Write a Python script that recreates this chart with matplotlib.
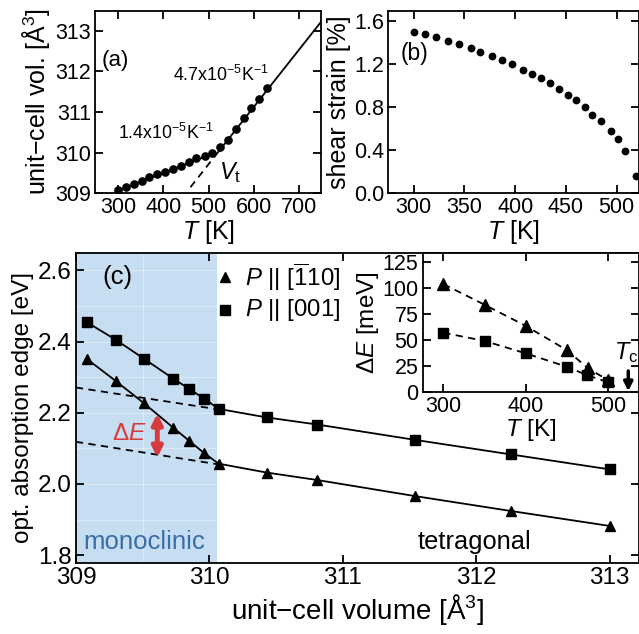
import numpy as np
import matplotlib
matplotlib.use("Agg")
import matplotlib.pyplot as plt

plt.rcParams['font.family'] = ['Liberation Sans', 'DejaVu Sans']
plt.rcParams['mathtext.fontset'] = 'custom'
plt.rcParams['mathtext.rm'] = 'Liberation Sans'
plt.rcParams['mathtext.it'] = 'Liberation Sans:italic'
plt.rcParams['mathtext.bf'] = 'Liberation Sans:bold'
plt.rcParams['font.size'] = 15
plt.rcParams['axes.linewidth'] = 1.3

# ---------------- data ----------------
# (a) unit-cell volume vs T
a_T = [300, 317, 335, 352, 369, 387, 404, 421, 439, 456,
       473, 491, 508, 525, 542, 560, 577, 594, 612, 629]
a_V = [309.07, 309.15, 309.23, 309.30, 309.39, 309.48, 309.52, 309.61, 309.68, 309.77,
       309.86, 309.92, 309.99, 310.13, 310.31, 310.58, 310.85, 311.09, 311.32, 311.59]
a_low_fit_T = [300, 515]
a_low_fit_V = [309.07, 310.00]
a_high_fit_T = [460, 515, 750]
a_high_fit_V = [309.15, 309.93, 313.25]

# (b) shear strain vs T
b_T = [300, 311, 322, 334, 345, 356, 365, 377, 387, 397, 408, 417,
       425, 434, 443, 452, 460, 469, 476, 485, 494, 501, 508, 519]
b_S = [1.498, 1.473, 1.449, 1.408, 1.381, 1.344, 1.310, 1.273, 1.232, 1.195, 1.143, 1.103,
       1.066, 1.019, 0.970, 0.911, 0.862, 0.797, 0.729, 0.667, 0.581, 0.503, 0.395, 0.164]

# (c) optical absorption edge vs volume
c_V = [309.08, 309.30, 309.51, 309.73, 309.85, 309.96, 310.07,
       310.43, 310.81, 311.54, 312.26, 313.00]
c_E_110 = [2.352, 2.289, 2.227, 2.158, 2.121, 2.087, 2.057,
           2.032, 2.011, 1.966, 1.924, 1.882]
c_E_001 = [2.455, 2.405, 2.352, 2.296, 2.267, 2.240, 2.211,
           2.187, 2.167, 2.124, 2.083, 2.041]
n_mono = 7  # first 7 points are monoclinic (the 7th is the transition)
V_transition = 310.06

# inset: Delta E vs T
i_T_110 = [300, 350, 400, 450, 475, 500]
i_dE_110 = [104, 84, 63.5, 40, 22.6, 11]
i_T_001 = [300, 350, 400, 450, 474, 500]
i_dE_001 = [57, 49, 37, 24, 16, 9]
T_c = 524

# ---------------- figure ----------------
fig = plt.figure(figsize=(6.39, 6.34), dpi=100)
W, H = 639.0, 634.0

def rect(l, r, t, b):
    return [l / W, 1 - b / H, (r - l) / W, (b - t) / H]

def style(ax, size):
    ax.tick_params(direction='in', length=6, width=1.3, top=True, right=True,
                   labelsize=size, pad=3)

# (a)
axa = fig.add_axes(rect(95.3, 321, 11, 193.3))
style(axa, 15.5)
axa.plot(a_low_fit_T, a_low_fit_V, '-', color='black', lw=1.3)
axa.plot(a_high_fit_T[:2], a_high_fit_V[:2], '--', color='black', lw=1.3, dashes=(4, 3))
axa.plot(a_high_fit_T[1:], a_high_fit_V[1:], '-', color='black', lw=1.3)
axa.plot(a_T, a_V, 'o', color='black', ms=5.2)
axa.set_xlim(250, 748)
axa.set_ylim(309, 313.49)
axa.set_xticks([300, 400, 500, 600, 700])
axa.set_yticks([309, 310, 311, 312, 313])
axa.set_xlabel('$T$ [K]', fontsize=18, labelpad=0)
axa.set_ylabel('unit\u2212cell vol. [Å$^3$]', fontsize=18, labelpad=2)
axa.text(294, 312.28, '(a)', fontsize=16, ha='center', va='center')
axa.text(422, 311.91, '4.7x10$^{-5}$K$^{-1}$', fontsize=12.8, ha='left', va='center')
axa.text(299, 310.49, '1.4x10$^{-5}$K$^{-1}$', fontsize=12.8, ha='left', va='center')
axa.text(524, 309.5, '$V_{\\mathrm{t}}$', fontsize=17, ha='left', va='center')

# (b)
axb = fig.add_axes(rect(388.3, 639, 11, 193.3))
style(axb, 15.5)
axb.plot(b_T, b_S, 'o', color='black', ms=4.6, clip_on=False)
axb.set_xlim(275, 522)
axb.set_ylim(0, 1.69)
axb.set_xticks([300, 350, 400, 450, 500])
axb.set_yticks([0.0, 0.4, 0.8, 1.2, 1.6])
axb.set_yticklabels(['0.0', '0.4', '0.8', '1.2', '1.6'])
axb.set_xlabel('$T$ [K]', fontsize=18, labelpad=0)
axb.set_ylabel('shear strain [%]', fontsize=18, labelpad=2)
axb.text(301, 1.30, '(b)', fontsize=16.5, ha='center', va='center')

# (c)
axc = fig.add_axes(rect(75.9, 639, 252.7, 563.3))
style(axc, 17.5)
axc.axvspan(309.0, V_transition, color='#c6ddf2', lw=0, zorder=0)
for yg in [1.9, 2.0, 2.1, 2.2, 2.3, 2.4, 2.5, 2.6]:
    axc.plot([309.0, V_transition], [yg, yg], color='white', lw=0.8, alpha=0.4, zorder=0.5)
axc.plot([309.5, 309.5], [1.777, 2.65], color='white', lw=0.8, alpha=0.4, zorder=0.5)

# dashed extrapolations of the tetragonal fits
xx = np.array([309.0, c_V[n_mono - 1]])
for E in (c_E_110, c_E_001):
    p = np.polyfit(c_V[n_mono - 1:], E[n_mono - 1:], 1)
    axc.plot(xx, np.polyval(p, xx), '--', color='black', lw=1.3, dashes=(4, 3), zorder=2)

axc.plot(c_V, c_E_110, '-', color='black', lw=1.3, zorder=3)
axc.plot(c_V, c_E_001, '-', color='black', lw=1.3, zorder=3)
axc.plot(c_V, c_E_110, '^', color='black', ms=7.5, zorder=4, ls='none')
axc.plot(c_V, c_E_001, 's', color='black', ms=6.5, zorder=4, ls='none')

axc.set_xlim(309.0, 313.22)
axc.set_ylim(1.777, 2.65)
axc.set_xticks([309, 310, 311, 312, 313])
axc.set_yticks([1.8, 2.0, 2.2, 2.4, 2.6])
axc.set_yticklabels(['1.8', '2.0', '2.2', '2.4', '2.6'])
axc.set_xlabel('unit\u2212cell volume [Å$^3$]', fontsize=20, labelpad=2)
axc.set_ylabel('opt. absorption edge [eV]', fontsize=17.5, labelpad=3)

axc.text(309.31, 2.582, '(c)', fontsize=18.5, ha='center', va='center')
axc.text(309.51, 1.838, 'monoclinic', fontsize=18.5, ha='center', va='center', color='#3a6ea8')
axc.text(311.99, 1.838, 'tetragonal', fontsize=18.3, ha='center', va='center', color='black')

# Delta E arrow
axc.annotate('', xy=(309.61, 2.074), xytext=(309.61, 2.198),
             arrowprops=dict(arrowstyle='<|-|>', color='#d63a3c', lw=3.5,
                             mutation_scale=15, shrinkA=0, shrinkB=0))
axc.text(309.40, 2.140, '$\\Delta E$', fontsize=17.5, ha='center', va='center', color='#d63a3c')

# legend (manual)
axc.plot([310.12], [2.582], '^', color='black', ms=7.5)
axc.plot([310.12], [2.489], 's', color='black', ms=6.5)
axc.text(310.27, 2.582, '$P$ || [$\\overline{1}$10]', fontsize=17.3, ha='left', va='center')
axc.text(310.27, 2.489, '$P$ || [001]', fontsize=17.3, ha='left', va='center')

# inset
axi = fig.add_axes(rect(422.7, 639, 252.7, 391.7))
axi.set_facecolor('white')
style(axi, 15.5)
axi.plot(i_T_110, i_dE_110, '--', color='black', lw=1.3, dashes=(4, 3))
axi.plot(i_T_001, i_dE_001, '--', color='black', lw=1.3, dashes=(4, 3))
axi.plot(i_T_110, i_dE_110, '^', color='black', ms=8, ls='none')
axi.plot(i_T_001, i_dE_001, 's', color='black', ms=6.5, ls='none')
axi.set_xlim(275, 537)
axi.set_ylim(0, 134.3)
axi.set_xticks([300, 400, 500])
axi.set_yticks([0, 25, 50, 75, 100, 125])
axi.set_xlabel('$T$ [K]', fontsize=17.5, labelpad=0)
axi.set_ylabel('$\\Delta E$ [meV]', fontsize=17.5, labelpad=1)
axi.annotate('', xy=(T_c, 0.5), xytext=(T_c, 20),
             arrowprops=dict(arrowstyle='-|>', color='black', lw=2.5,
                             mutation_scale=13, shrinkA=0, shrinkB=0))
axi.text(507, 38, '$T_{\\mathrm{c}}$', fontsize=17, ha='left', va='center')

fig.savefig('out.png', dpi=100)
